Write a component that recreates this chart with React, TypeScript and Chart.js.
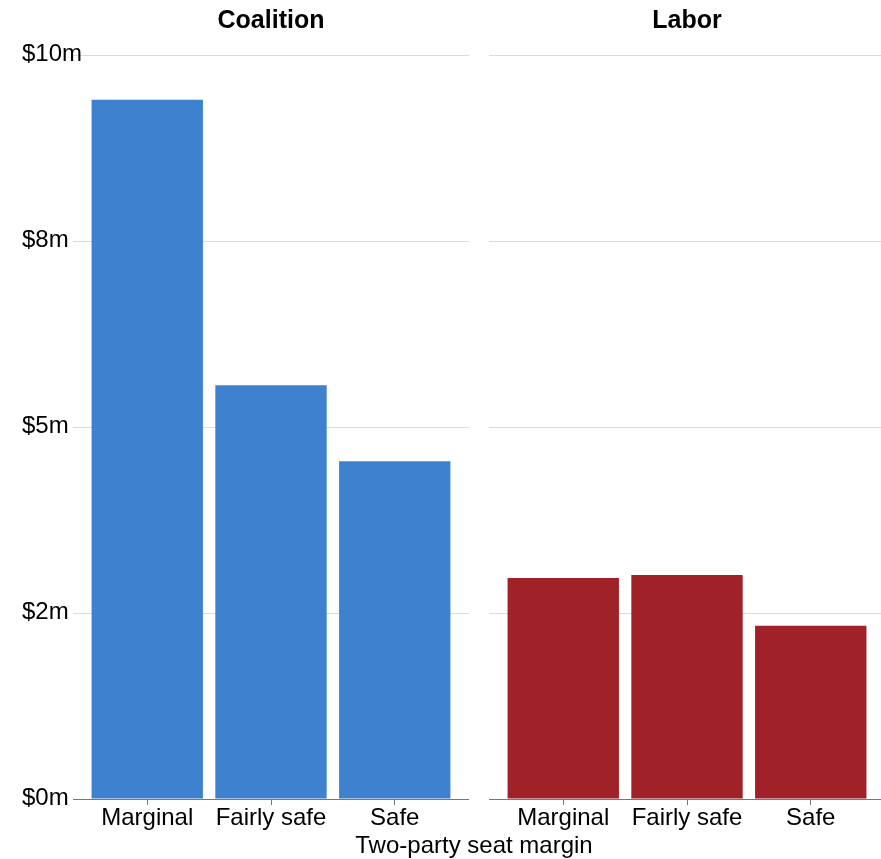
import React, { useEffect, useRef } from 'react';
import { Chart, registerables } from 'chart.js';

Chart.register(...registerables);

const categories = ['Marginal', 'Fairly safe', 'Safe'];
const coalitionValues = [9.4, 5.56, 4.54];
const laborValues = [2.97, 3.01, 2.33];
const yTickValues = [0, 2.5, 5, 7.5, 10];
const yTickLabels = ['$0m', '$2m', '$5m', '$8m', '$10m'];
const panelTitles = ['Coalition', 'Labor'];
const xAxisTitle = 'Two-party seat margin';

const FONT = "'Liberation Sans', Arial, Helvetica, sans-serif";

const panelTitlePlugin = {
  id: 'panelTitle',
  afterDraw(chart: any, _args: any, opts: any) {
    const { ctx, chartArea } = chart;
    ctx.save();
    ctx.font = `bold 25px ${FONT}`;
    ctx.fillStyle = '#000';
    ctx.textAlign = 'center';
    ctx.textBaseline = 'alphabetic';
    ctx.fillText(opts.text, (chartArea.left + chartArea.right) / 2, 28);
    if (opts.showY) {
      const y = chart.scales.y;
      ctx.font = `24px ${FONT}`;
      ctx.textAlign = 'left';
      ctx.textBaseline = 'middle';
      yTickValues.forEach((v, i) => {
        ctx.fillText(yTickLabels[i], 22, y.getPixelForValue(v) - 1);
      });
    }
    ctx.restore();
  },
};

type PanelProps = {
  title: string;
  values: number[];
  color: string;
  showY: boolean;
  left: number;
  width: number;
};

function Panel({ title, values, color, showY, left, width }: PanelProps) {
  const ref = useRef<HTMLCanvasElement | null>(null);
  useEffect(() => {
    if (!ref.current) return;
    const chart = new Chart(ref.current, {
      type: 'bar',
      data: {
        datasets: [
          {
            data: values.map((v, i) => ({ x: i, y: v })),
            backgroundColor: color,
            borderWidth: 0,
            categoryPercentage: 1,
            barPercentage: 0.9,
          } as any,
        ],
      },
      options: {
        responsive: false,
        animation: false,
        devicePixelRatio: 1,
        layout: { padding: { left: showY ? 22 : 0, right: 0, top: 55, bottom: 20 } },
        plugins: {
          legend: { display: false },
          tooltip: { enabled: false },
          title: { display: false },
          panelTitle: { text: title, showY },
        } as any,
        scales: {
          x: {
            type: 'linear',
            min: -0.6,
            max: 2.6,
            offset: false,
            afterBuildTicks: (s: any) => {
              s.ticks = categories.map((_, i) => ({ value: i }));
            },
            afterFit: (s: any) => {
              s.height = 40;
            },
            ticks: {
              callback: (v: any) => categories[v] ?? '',
              font: { family: FONT, size: 24, lineHeight: 1 },
              color: '#000',
              padding: 1,
              maxRotation: 0,
              autoSkip: false,
            },
            grid: { offset: false, drawOnChartArea: false, drawTicks: true, tickLength: 6, color: '#777' },
            border: { display: true, color: '#777', width: 1 },
          },
          y: {
            min: 0,
            max: 10,
            afterBuildTicks: (s: any) => {
              s.ticks = yTickValues.map((v) => ({ value: v }));
            },
            afterFit: (s: any) => {
              s.width = showY ? 51 : 0;
            },
            ticks: { display: false },
            grid: {
              drawTicks: false,
              color: (c: any) => (c.tick && c.tick.value === 0 ? 'rgba(0,0,0,0)' : '#dcdcdc'),
            },
            border: { display: false },
          },
        },
      } as any,
      plugins: [panelTitlePlugin],
    });
    return () => chart.destroy();
  }, [title, values, color, showY]);
  return (
    <canvas
      ref={ref}
      width={width}
      height={859}
      style={{ position: 'absolute', left, top: 0, display: 'block' }}
    />
  );
}

export default function App() {
  return (
    <div
      style={{
        position: 'absolute',
        left: 0,
        top: 0,
        width: 881,
        height: 859,
        overflow: 'hidden',
        background: '#fff',
      }}
    >
      <Panel title={panelTitles[0]} values={coalitionValues} color="#3e82cf" showY={true} left={0} width={469} />
      <Panel title={panelTitles[1]} values={laborValues} color="#a02128" showY={false} left={489} width={396} />
      <div
        style={{
          position: 'absolute',
          left: 73,
          width: 802,
          top: 833,
          textAlign: 'center',
          fontFamily: FONT,
          fontSize: 24,
          lineHeight: '24px',
          color: '#000',
        }}
      >
        {xAxisTitle}
      </div>
    </div>
  );
}
